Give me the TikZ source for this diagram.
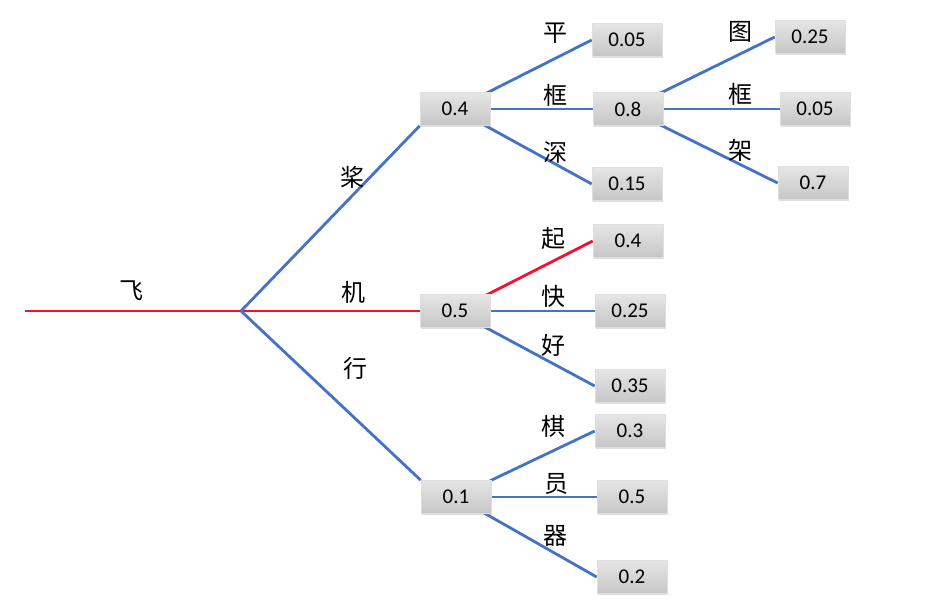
\documentclass[tikz,border=0pt]{standalone}
\usepackage{fontspec}
\setmainfont{Carlito}
\newfontfamily\cjk{Noto Sans CJK SC}
\usetikzlibrary{shadows}
\pgfdeclarelayer{background}
\pgfsetlayers{background,main}
\definecolor{lineblue}{HTML}{4472C4}
\definecolor{linered}{HTML}{F5102F}
\tikzset{
  probbox/.style={rectangle, minimum width=70pt, minimum height=33pt, inner sep=0pt,
    top color=gray!20, bottom color=gray!45, draw=gray!25, line width=0.6pt,
    drop shadow={opacity=0.25, shadow xshift=1.2pt, shadow yshift=-1.2pt},
    font=\fontsize{21}{22}\selectfont},
  wordlbl/.style={font=\cjk\fontsize{24}{26}\selectfont, inner sep=0pt},
  blueline/.style={draw=lineblue, line width=2.8pt},
  redline/.style={draw=linered, line width=2.8pt},
}
\begin{document}
\begin{tikzpicture}[x=1pt, y=-1pt]
\useasboundingbox (0,0) rectangle (937,610);
% level 1 boxes
\node[probbox] (b4) at (455,109) {0.4};
\node[probbox] (b5) at (455,311) {0.5};
\node[probbox] (b1) at (456,497) {0.1};
% level 2 boxes
\node[probbox] (p05) at (627,40) {0.05};
\node[probbox] (k08) at (628,109) {0.8};
\node[probbox] (s15) at (627,184) {0.15};
\node[probbox] (q04) at (628,241) {0.4};
\node[probbox] (f25) at (630,311) {0.25};
\node[probbox] (h35) at (630,386) {0.35};
\node[probbox] (c03) at (630,431) {0.3};
\node[probbox] (y05) at (632,497) {0.5};
\node[probbox] (z02) at (632,577) {0.2};
% level 3 boxes
\node[probbox] (t25) at (810,37) {0.25};
\node[probbox] (k05) at (815,109) {0.05};
\node[probbox] (j07) at (813,183) {0.7};
% coordinates
\coordinate (start) at (25,311);
\coordinate (fork) at (241,311);
% connectors
\begin{pgfonlayer}{background}
\draw[redline] (start) -- (fork);
\draw[redline] (fork) -- (b5.west);
\draw[blueline] (fork) -- (b4.south west);
\draw[blueline] (fork) -- (b1.north west);
\draw[blueline] (b4.center) -- (p05.west);
\draw[blueline] (b4.center) -- (k08.west);
\draw[blueline] (b4.center) -- (s15.west);
\draw[blueline] (k08.center) -- (t25.west);
\draw[blueline] (k08.center) -- (k05.west);
\draw[blueline] (k08.center) -- (j07.west);
\draw[redline] (b5.center) -- (q04.west);
\draw[blueline] (b5.center) -- (f25.west);
\draw[blueline] (b5.center) -- (h35.west);
\draw[blueline] (b1.center) -- (c03.west);
\draw[blueline] (b1.center) -- (y05.west);
\draw[blueline] (b1.center) -- (z02.west);
\end{pgfonlayer}
% labels
\node[wordlbl] (l0) at (131,291) {飞};
\node[wordlbl] (l1) at (352,177) {桨};
\node[wordlbl] (l2) at (353,292) {机};
\node[wordlbl] (l3) at (355,368) {行};
\node[wordlbl] (l4) at (555,33) {平};
\node[wordlbl] (l5) at (555,95) {框};
\node[wordlbl] (l6) at (555,152) {深};
\node[wordlbl] (l7) at (740,32) {图};
\node[wordlbl] (l8) at (740,94) {框};
\node[wordlbl] (l9) at (740,150) {架};
\node[wordlbl] (l10) at (553,238) {起};
\node[wordlbl] (l11) at (553,296) {快};
\node[wordlbl] (l12) at (553,345) {好};
\node[wordlbl] (l13) at (553,426) {棋};
\node[wordlbl] (l14) at (556,484) {员};
\node[wordlbl] (l15) at (555,536) {器};
\end{tikzpicture}
\end{document}
